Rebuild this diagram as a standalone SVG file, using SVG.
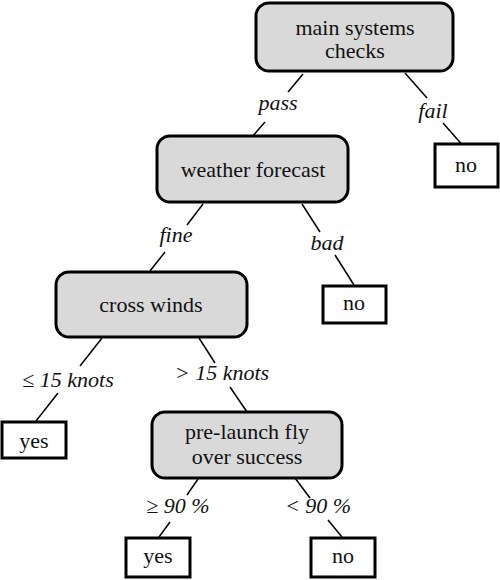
<svg xmlns="http://www.w3.org/2000/svg" width="500" height="580" viewBox="0 0 500 580">
<style>
.dec{fill:#d9d9d9;stroke:#000;stroke-width:3}
.leaf{fill:#fff;stroke:#000;stroke-width:3}
.c line{stroke:#000;stroke-width:1.5}
</style>
<rect width="500" height="580" fill="#fff"/>
<g class="c" id="connectors">
<line x1="303" y1="74" x2="288" y2="92"/>
<line x1="265" y1="122" x2="252" y2="137"/>
<line x1="405" y1="73" x2="427" y2="98"/>
<line x1="443" y1="123" x2="465" y2="148"/>
<line x1="203" y1="204" x2="187" y2="225"/>
<line x1="165" y1="252" x2="150" y2="271"/>
<line x1="302" y1="204" x2="320" y2="232"/>
<line x1="335" y1="255" x2="354" y2="285"/>
<line x1="102" y1="338" x2="80" y2="366"/>
<line x1="58" y1="393" x2="36" y2="421"/>
<line x1="199" y1="338" x2="215" y2="363"/>
<line x1="230" y1="387" x2="247" y2="412"/>
<line x1="198" y1="479" x2="187" y2="495"/>
<line x1="170" y1="522" x2="159" y2="537"/>
<line x1="295" y1="478" x2="310" y2="498"/>
<line x1="328" y1="520" x2="342" y2="537"/>
</g>
<g id="labels" font-family="Liberation Serif, DejaVu Serif, serif" font-size="22" font-style="italic" text-anchor="middle" fill="#111">
<text x="278" y="110">pass</text>
<text x="433" y="118">fail</text>
<text x="176" y="242">fine</text>
<text x="327" y="250">bad</text>
<text x="68" y="387">≤ 15 knots</text>
<text x="222" y="380">&gt; 15 knots</text>
<text x="178" y="513">≥ 90 %</text>
<text x="318" y="513">&lt; 90 %</text>
</g>
<g font-family="Liberation Serif, DejaVu Serif, serif" font-size="22" text-anchor="middle" fill="#111">
<g id="n-main">
<rect class="dec" x="256" y="3" width="197" height="68" rx="13"/>
<text x="355" y="35">main systems</text>
<text x="355" y="58">checks</text>
</g>
<g id="n-fail-no">
<rect class="leaf" x="435" y="144" width="63" height="43"/>
<text x="466" y="172">no</text>
</g>
<g id="n-weather">
<rect class="dec" x="157" y="136" width="191" height="66" rx="13"/>
<text x="253" y="177">weather forecast</text>
</g>
<g id="n-bad-no">
<rect class="leaf" x="323" y="286" width="63" height="37"/>
<text x="354" y="310">no</text>
</g>
<g id="n-cross">
<rect class="dec" x="56" y="272" width="191" height="65" rx="13"/>
<text x="151" y="312">cross winds</text>
</g>
<g id="n-yes1">
<rect class="leaf" x="2" y="422" width="64" height="36"/>
<text x="34" y="448">yes</text>
</g>
<g id="n-prelaunch">
<rect class="dec" x="152" y="412" width="190" height="66" rx="13"/>
<text x="247" y="439">pre-launch fly</text>
<text x="247" y="464">over success</text>
</g>
<g id="n-yes2">
<rect class="leaf" x="126" y="538" width="64" height="39"/>
<text x="158" y="563">yes</text>
</g>
<g id="n-no3">
<rect class="leaf" x="311" y="538" width="64" height="39"/>
<text x="343" y="563">no</text>
</g>
</g>
</svg>
